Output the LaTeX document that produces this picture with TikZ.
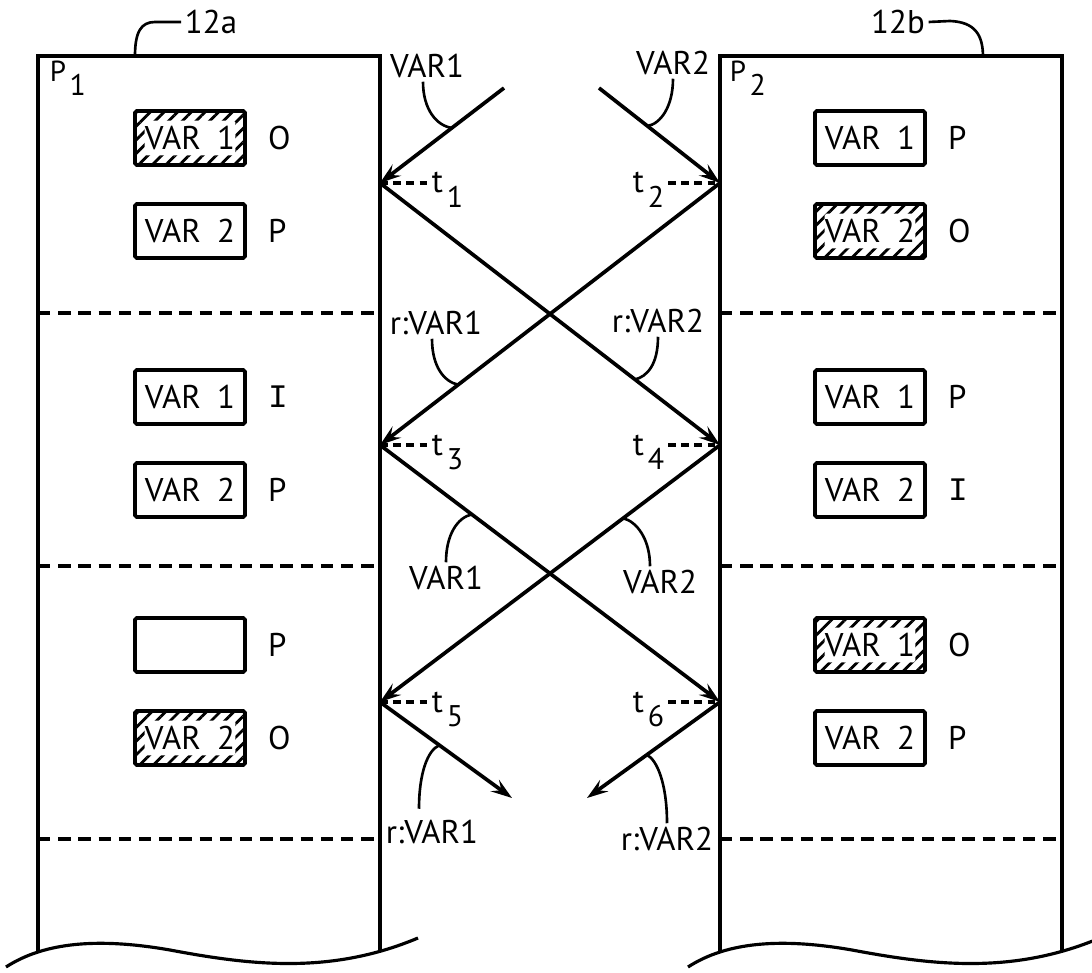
\documentclass[tikz,border=0pt]{standalone}
\usepackage{fontspec}
\setmainfont{PT Sans}
\newfontfamily\serifmono{Liberation Mono}
\usetikzlibrary{arrows.meta,positioning,patterns.meta}
\newcommand{\vlab}[1]{VAR\hspace{0.5em}#1}
\newcommand{\idx}[2]{#1\hspace{0.12em}\raisebox{-0.45em}{\fontsize{17}{17}\selectfont #2}}

\begin{document}
\begin{tikzpicture}[x=0.02cm,y=-0.02cm,font=\fontsize{18.7}{20}\selectfont,
  wall/.style={line width=2.5pt},
  sep/.style={line width=2.1pt,dash pattern=on 7pt off 4.5pt},
  cell/.style={draw,line width=2.1pt,rounded corners=1pt,minimum width=2.2cm,minimum height=1.08cm,inner sep=0pt},
  hatched/.style={cell,path picture={
    \fill[pattern={Lines[angle=45,distance=5.5pt,line width=1.6pt]}] (path picture bounding box.south west) rectangle (path picture bounding box.north east);
    \fill[white] ([shift={(5.5pt,5.5pt)}]path picture bounding box.south west) rectangle ([shift={(-5.5pt,-5.5pt)}]path picture bounding box.north east);}},
  state/.style={inner sep=0pt},
  msg/.style={line width=2.1pt,-{Stealth[length=12pt,width=8pt,inset=4.5pt]}},
  tick/.style={line width=1.8pt,dash pattern=on 4.5pt off 3pt},
  lead/.style={line width=1.5pt},
  lab/.style={inner sep=2pt}]
\useasboundingbox (0,0) rectangle (1092,973);

\foreach \dx in {0,682}{
  \begin{scope}[shift={(\dx,0)}]
    \draw[wall] (38,952) -- (38,56) -- (380,56) -- (380,952);
    \draw[lead,line width=1.8pt] (6,967) .. controls (40,945) and (90,936) .. (170,950) .. controls (250,965) and (330,975) .. (418,938);
    \foreach \y in {313,566,839} \draw[sep] (38,\y) -- (380,\y);
  \end{scope}
}

\node[lab] (n12a) at (211,22) {12a};
\draw[lead] (n12a.west) -- (155,22) .. controls (141,22) and (135,32) .. (135,56);
\node[lab] (n12b) at (898,22) {12b};
\draw[lead] (n12b.east) -- (950,21) .. controls (975,22) and (983,35) .. (983,57);
\node[lab,anchor=base west,font=\fontsize{16.5}{18}\selectfont] (p1) at (46,82) {\idx{P}{1}};
\node[lab,anchor=base west,font=\fontsize{16.5}{18}\selectfont] (p2) at (726,82) {\idx{P}{2}};

\node[hatched] (a1) at (190,138) {\vlab{1}};
\node[cell] (a2) at (190,231) {\vlab{2}};
\node[cell] (a3) at (190,397) {\vlab{1}};
\node[cell] (a4) at (190,490) {\vlab{2}};
\node[cell] (a5) at (190,645) {};
\node[hatched] (a6) at (190,738) {\vlab{2}};
\node[cell] (b1) at (870,138) {\vlab{1}};
\node[hatched] (b2) at (870,231) {\vlab{2}};
\node[cell] (b3) at (870,397) {\vlab{1}};
\node[cell] (b4) at (870,490) {\vlab{2}};
\node[hatched] (b5) at (870,645) {\vlab{1}};
\node[cell] (b6) at (870,738) {\vlab{2}};
\foreach \n/\s in {a1/O,a2/P,a3/{\serifmono I},a4/P,a5/P,a6/O,b1/P,b2/O,b3/P,b4/{\serifmono I},b5/O,b6/P}
  \node[state,right=0.42cm of \n] {\s};

\coordinate (s1) at (504,88);
\coordinate (s2) at (599,88);
\coordinate (t1) at (380,183);
\coordinate (t2) at (720,183);
\coordinate (t3) at (380,445);
\coordinate (t4) at (720,445);
\coordinate (t5) at (380,702);
\coordinate (t6) at (720,702);
\coordinate (e1) at (512,798);
\coordinate (e2) at (587,798);

\draw[msg] (s1) -- (t1) coordinate[pos=0.42] (m1);
\draw[msg] (s2) -- (t2) coordinate[pos=0.40] (m2);
\draw[msg] (t2) -- (t3) coordinate[pos=0.77] (m3);
\draw[msg] (t1) -- (t4) coordinate[pos=0.75] (m4);
\draw[msg] (t3) -- (t6) coordinate[pos=0.27] (m5);
\draw[msg] (t4) -- (t5) coordinate[pos=0.285] (m6);
\draw[msg] (t5) -- (e1) coordinate[pos=0.45] (m7);
\draw[msg] (t6) -- (e2) coordinate[pos=0.55] (m8);

\node[lab,anchor=base west] (l1) at (428,193) {\idx{t}{1}};
\node[lab,anchor=base east] (l2) at (668,193) {\idx{t}{2}};
\node[lab,anchor=base west] (l3) at (428,455) {\idx{t}{3}};
\node[lab,anchor=base east] (l4) at (668,455) {\idx{t}{4}};
\node[lab,anchor=base west] (l5) at (428,712) {\idx{t}{5}};
\node[lab,anchor=base east] (l6) at (668,712) {\idx{t}{6}};
\draw[tick] (t1) -- (t1 -| l1.west);
\draw[tick] (l2.east |- t2) -- (t2);
\draw[tick] (t3) -- (t3 -| l3.west);
\draw[tick] (l4.east |- t4) -- (t4);
\draw[tick] (t5) -- (t5 -| l5.west);
\draw[tick] (l6.east |- t6) -- (t6);

\node[lab] (lv1) at (427,66) {VAR1};
\node[lab] (lv2) at (673,63) {VAR2};
\node[lab] (lr1) at (436,323) {r:VAR1};
\node[lab] (lr2) at (658,321) {r:VAR2};
\node[lab] (lv3) at (446,578) {VAR1};
\node[lab] (lv4) at (660,582) {VAR2};
\node[lab] (lr3) at (432,832) {r:VAR1};
\node[lab] (lr4) at (667,839) {r:VAR2};
\draw[lead] ([xshift=-0.08cm]lv1.south) .. controls +(0,28) and +(-15,-2) .. (m1);
\draw[lead] (lv2.south) .. controls +(0,28) and +(13,-2) .. (m2);
\draw[lead] ([xshift=-0.08cm]lr1.south) .. controls +(0,28) and +(-14,-3) .. (m3);
\draw[lead] (lr2.south) .. controls +(0,28) and +(12,-3) .. (m4);
\draw[lead] (lv3.north) .. controls +(0,-28) and +(-14,3) .. (m5);
\draw[lead] ([xshift=-0.2cm]lv4.north) .. controls +(0,-28) and +(13,3) .. (m6);
\draw[lead] ([shift={(-0.26cm,0.15cm)}]lr3.north) .. controls +(0,-35) and +(-12,5) .. (m7);
\draw[lead] (lr4.north) .. controls +(0,-40) and +(10,5) .. (m8);
\end{tikzpicture}
\end{document}
